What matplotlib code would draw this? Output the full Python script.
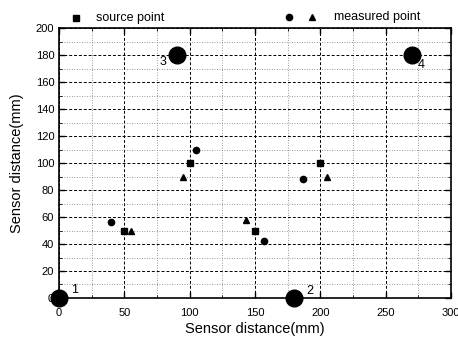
import matplotlib
matplotlib.use('Agg')
import matplotlib.pyplot as plt
from matplotlib.lines import Line2D
from matplotlib.ticker import MultipleLocator

plt.rcParams['font.family'] = ['Liberation Sans', 'DejaVu Sans']

# ── data ──
sensor_x = [0, 180, 90, 270]
sensor_y = [0, 0, 180, 180]
sensor_labels = ['1', '2', '3', '4']

source_x = [50, 100, 150, 200]
source_y = [50, 100, 50, 100]

meas_circ_x = [40, 105, 157, 187]
meas_circ_y = [56, 110, 42, 88]

meas_tri_x = [55, 95, 143, 205]
meas_tri_y = [50, 90, 58, 90]

fig = plt.figure(figsize=(4.58, 3.39), dpi=100)
ax = fig.add_axes([0.129, 0.121, 0.856, 0.796])

# grid
ax.xaxis.set_major_locator(MultipleLocator(50))
ax.xaxis.set_minor_locator(MultipleLocator(25))
ax.yaxis.set_major_locator(MultipleLocator(20))
ax.yaxis.set_minor_locator(MultipleLocator(10))
ax.grid(which='major', ls=(0, (3, 2)), color='black', lw=0.7)
ax.grid(which='minor', ls=(0, (1, 2)), color='#777777', lw=0.6)
ax.set_axisbelow(True)

ax.plot(sensor_x, sensor_y, 'o', color='black', ms=12, clip_on=False, zorder=5)
ax.plot(source_x, source_y, 's', color='black', ms=4.5, zorder=5)
ax.plot(meas_circ_x, meas_circ_y, 'o', color='black', ms=4.5, zorder=5)
ax.plot(meas_tri_x, meas_tri_y, '^', color='black', ms=5, zorder=5)

# sensor labels
offsets = [(11, 6), (11, 5), (-10, -5), (7, -7)]
for x, y, t, (dx, dy) in zip(sensor_x, sensor_y, sensor_labels, offsets):
    ax.annotate(t, (x, y), xytext=(dx, dy), textcoords='offset points',
                fontsize=9, ha='center', va='center', zorder=6)

ax.set_xlim(0, 300)
ax.set_ylim(0, 200)
ax.tick_params(which='both', direction='in', top=True, right=True,
               labelsize=8)
ax.tick_params(axis='x', which='major', pad=7)
ax.tick_params(which='major', length=4, width=1)
ax.tick_params(which='minor', length=2)
for s in ax.spines.values():
    s.set_linewidth(1.2)

ax.set_xlabel('Sensor distance(mm)', fontsize=10.5, labelpad=3)
ax.set_ylabel('Sensor distance(mm)', fontsize=10.5, labelpad=8)

# legend above plot
H, W = 339, 458
def fx(px):
    return px / W
def fy(py):
    return 1 - py / H

fig.add_artist(Line2D([fx(76)], [fy(18)], marker='s', color='black', ms=4.5,
                      transform=fig.transFigure))
fig.text(fx(96), fy(18), 'source point', fontsize=9, va='center')
fig.add_artist(Line2D([fx(289)], [fy(17)], marker='o', color='black', ms=4.5,
                      transform=fig.transFigure))
fig.add_artist(Line2D([fx(312)], [fy(17)], marker='^', color='black', ms=5,
                      transform=fig.transFigure))
fig.text(fx(334), fy(17), 'measured point', fontsize=9, va='center')

fig.savefig('out.png', dpi=100)
